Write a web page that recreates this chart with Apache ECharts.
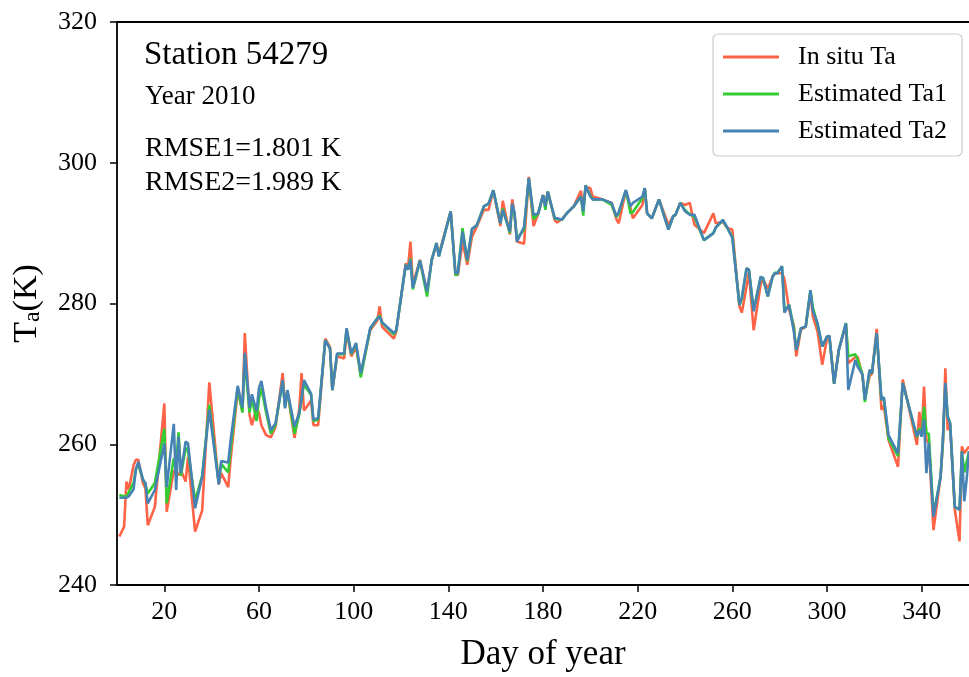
<!DOCTYPE html>
<html>
<head>
<meta charset="utf-8">
<script src="https://cdn.jsdelivr.net/npm/echarts@6/dist/echarts.min.js"></script>
<style>
  html, body { margin: 0; padding: 0; background: #fff; }
  #main { width: 969px; height: 677px; }
</style>
</head>
<body>
<div id="main"></div>
<script>
// day of year
var days = [1,3,4,5,7,8,9,11,12,13,16,20,21,24,25,26,27,29,30,33,
  36,39,43,44,47,48,51,53,54,56,57,59,60,61,63,65,67,70,71,72,
  75,77,78,79,82,83,85,88,90,91,93,96,97,99,101,103,107,110,111,112,
  117,118,122,123,124,125,128,131,133,135,136,141,143,144,146,148,150,152,155,157,
  159,162,163,166,167,168,169,172,174,176,178,180,181,182,185,186,188,190,193,196,
  197,198,200,201,205,209,211,212,215,217,218,222,223,224,226,229,233,235,236,238,
  240,242,244,248,252,253,256,258,260,263,264,266,267,269,272,273,275,277,278,279,
  281,282,284,286,287,289,291,293,294,296,298,300,301,303,305,308,309,312,313,315,
  316,318,319,321,323,324,326,330,332,338,339,340,341,342,343,345,348,349,350,351,
  352,354,356,357,358,359,360];

// In situ Ta
var inSitu = [246.9,248.3,254.7,253.6,257.0,257.8,257.8,254.4,253.8,248.5,251.1,265.8,250.4,256.3,256.0,255.6,256.3,254.7,258.2,247.6,
  250.6,268.8,254.3,255.9,253.9,257.8,267.6,264.7,275.8,264.2,262.7,265.2,264.4,262.7,261.3,261.0,262.5,270.1,265.6,267.5,
  260.9,265.0,270.1,264.8,266.2,262.7,262.7,275.0,273.8,267.7,272.5,272.2,276.0,272.5,273.8,269.9,276.2,277.6,279.6,276.7,
  275.0,276.0,285.7,285.2,288.8,282.7,286.2,281.7,286.2,288.4,287.0,293.1,284.3,284.0,288.8,285.5,289.5,290.9,293.3,293.3,
  296.1,291.0,294.6,289.8,294.8,292.6,288.8,288.5,298.0,291.0,292.8,295.4,293.8,295.9,291.8,291.5,292.0,292.8,293.8,296.0,
  293.5,296.5,296.4,295.2,294.8,294.3,292.0,291.4,296.0,293.5,292.1,294.0,296.4,292.8,292.1,294.8,291.2,292.4,292.6,294.3,
  294.0,294.3,291.2,290.0,292.8,291.4,291.6,290.7,290.5,279.6,278.7,282.4,284.5,276.2,282.8,283.4,282.1,283.8,284.3,284.3,
  284.3,283.5,279.1,276.9,272.5,276.3,276.7,281.5,278.2,276.0,271.3,275.0,275.4,268.6,273.4,277.0,271.5,272.4,272.4,269.7,
  266.5,269.7,270.0,276.4,264.9,265.5,260.6,256.8,269.2,259.9,264.6,261.6,268.2,260.6,260.2,247.8,255.4,260.2,270.8,262.0,
  263.0,250.7,246.2,259.7,258.7,259.2,259.7];

// Estimated Ta1
var estTa1 = [252.8,252.6,252.6,253.2,254.5,256.5,257.0,255.0,254.3,253.0,254.5,262.2,251.6,258.0,257.0,261.7,255.5,259.5,259.0,252.0,
  255.5,265.6,254.5,257.2,256.0,259.3,268.0,264.5,272.1,264.5,266.5,263.3,266.5,268.0,264.5,261.5,262.8,269.0,265.3,267.6,
  261.5,264.2,266.5,268.5,267.0,263.3,263.5,274.8,273.6,267.7,272.8,272.8,276.4,272.8,274.3,269.5,276.4,277.9,278.3,277.3,
  275.6,276.2,285.5,284.8,286.4,282.0,286.1,281.0,286.3,288.6,286.7,293.1,284.0,284.2,290.7,286.0,290.6,291.1,293.8,294.2,
  296.1,291.4,293.5,290.0,294.0,292.5,289.2,290.5,297.8,292.0,292.8,295.4,293.3,295.9,292.0,292.0,291.9,292.8,293.8,295.2,
  292.5,296.8,295.3,294.8,294.8,294.0,292.3,292.8,296.1,292.8,293.0,295.0,296.4,292.8,292.1,294.8,290.5,292.4,292.6,294.3,
  293.3,292.7,292.3,289.0,290.0,290.8,291.8,290.6,289.5,279.8,280.6,285.0,284.8,279.0,283.8,283.6,281.0,283.8,284.4,284.3,
  285.3,279.0,279.8,276.5,273.4,276.5,276.7,281.9,279.5,277.0,273.9,275.3,275.4,268.6,273.4,277.2,272.5,272.8,272.0,269.9,
  266.0,270.4,270.1,275.8,266.3,266.5,260.8,258.3,268.7,261.0,262.3,261.1,265.3,261.6,261.5,250.0,255.4,260.5,268.7,264.0,
  263.0,251.1,250.7,259.0,256.0,257.5,259.0];

// Estimated Ta2
var estTa2 = [252.4,252.4,252.4,252.6,253.6,256.5,257.5,254.9,254.5,251.6,253.5,260.1,253.9,262.9,253.5,261.1,255.9,260.4,260.1,250.9,
  255.4,264.9,254.3,257.6,257.4,260.5,268.3,265.2,273.0,265.2,267.1,264.7,268.0,269.0,265.2,262.0,263.0,269.1,265.1,267.7,
  262.5,264.4,266.5,269.1,267.2,263.5,263.7,274.8,273.6,267.7,272.9,272.9,276.5,272.9,274.4,270.1,276.5,277.9,278.1,277.3,
  275.8,276.2,285.5,284.8,286.2,282.2,286.1,281.7,286.2,288.6,286.7,293.1,284.3,284.3,290.2,286.2,290.6,291.1,293.8,294.2,
  296.1,291.4,293.3,290.2,294.2,292.8,288.8,290.9,297.8,292.6,292.8,295.4,293.8,295.9,292.1,292.1,291.9,292.8,293.8,295.2,
  293.1,296.8,295.2,294.8,294.8,294.3,292.4,293.0,296.1,293.8,294.3,295.2,296.4,292.8,292.1,294.8,290.5,292.4,292.6,294.3,
  293.1,292.6,292.6,289.0,290.0,290.8,291.9,290.7,289.3,279.8,280.8,285.0,284.8,278.9,283.8,283.6,281.0,283.8,284.3,284.3,
  285.3,278.7,279.8,276.0,273.4,276.5,276.7,281.9,279.0,277.2,273.9,275.3,275.4,268.6,273.4,277.2,267.7,272.0,271.0,269.9,
  266.3,270.6,270.1,275.8,266.3,266.7,261.3,258.7,268.7,261.1,262.0,261.1,263.5,255.9,260.2,249.7,255.4,261.0,268.7,263.9,
  263.0,251.1,250.7,259.0,251.9,255.0,259.0];

var xTicks = [20, 60, 100, 140, 180, 220, 260, 300, 340];
var seriesNames = ['In situ Ta', 'Estimated Ta1', 'Estimated Ta2'];

var FONT = '"Liberation Serif", "DejaVu Serif", serif';

function pairs(arr) {
  return days.map(function (d, i) { return [d, arr[i]]; });
}

var chart = echarts.init(document.getElementById('main'), null, { renderer: 'canvas' });

chart.setOption({
  animation: false,
  backgroundColor: '#fff',
  color: ['#ff6347', '#32cd32', '#4682b4'],
  textStyle: { fontFamily: FONT, color: '#000' },
  grid: {
    left: 117, right: 0, top: 22, bottom: 92,
    outerBoundsMode: 'none'
  },
  title: [
    { text: 'Station 54279', left: 139, top: 34,
      textStyle: { fontFamily: FONT, fontSize: 33, fontWeight: 'normal', color: '#000' } },
    { text: 'Year 2010', left: 140, top: 78,
      textStyle: { fontFamily: FONT, fontSize: 27, fontWeight: 'normal', color: '#000' } },
    { text: 'RMSE1=1.801 K', left: 140, top: 130,
      textStyle: { fontFamily: FONT, fontSize: 28, fontWeight: 'normal', color: '#000' } },
    { text: 'RMSE2=1.989 K', left: 140, top: 164,
      textStyle: { fontFamily: FONT, fontSize: 28, fontWeight: 'normal', color: '#000' } }
  ],
  legend: {
    data: seriesNames,
    orient: 'vertical',
    left: 713,
    top: 34,
    icon: 'rect',
    itemWidth: 56,
    itemHeight: 3,
    itemGap: 11,
    padding: [10, 15, 12, 10],
    backgroundColor: 'rgba(255,255,255,0.85)',
    borderColor: '#cccccc',
    borderWidth: 1.2,
    borderRadius: 5,
    textStyle: { fontFamily: FONT, fontSize: 26, color: '#000', padding: [0, 0, 0, 14] }
  },
  xAxis: [{
    type: 'value',
    min: 0,
    max: 360,
    name: 'Day of year',
    nameLocation: 'middle',
    nameGap: 52,
    nameTextStyle: { fontFamily: FONT, fontSize: 35, color: '#000' },
    axisLine: { show: true, onZero: false, lineStyle: { color: '#000', width: 1.8 } },
    axisTick: { show: true, length: 7, customValues: xTicks, lineStyle: { color: '#000', width: 1.5 } },
    axisLabel: { customValues: xTicks, margin: 14, fontFamily: FONT, fontSize: 26, color: '#000' },
    splitLine: { show: false }
  }, {
    type: 'value',
    position: 'top',
    min: 0,
    max: 360,
    axisLine: { show: true, onZero: false, lineStyle: { color: '#000', width: 1.8 } },
    axisTick: { show: false },
    axisLabel: { show: false },
    splitLine: { show: false }
  }],
  yAxis: {
    type: 'value',
    min: 240,
    max: 320,
    interval: 20,
    name: '{t|T}{s|a}{t|(K)}',
    nameLocation: 'middle',
    nameRotate: 90,
    nameGap: 72,
    nameTextStyle: {
      rich: {
        t: { fontFamily: FONT, fontSize: 34, color: '#000' },
        s: { fontFamily: FONT, fontSize: 24, color: '#000', verticalAlign: 'bottom', padding: [12, 0, 0, 0] }
      }
    },
    axisLine: { show: true, onZero: false, lineStyle: { color: '#000', width: 1.8 } },
    axisTick: { show: true, length: 7, lineStyle: { color: '#000', width: 1.5 } },
    axisLabel: { margin: 20, fontFamily: FONT, fontSize: 26, color: '#000' },
    splitLine: { show: false }
  },
  series: [
    { name: seriesNames[0], type: 'line', data: pairs(inSitu), symbol: 'none',
      lineStyle: { width: 2.6, color: '#ff6347' }, itemStyle: { color: '#ff6347' } },
    { name: seriesNames[1], type: 'line', data: pairs(estTa1), symbol: 'none',
      lineStyle: { width: 2.6, color: '#32cd32' }, itemStyle: { color: '#32cd32' } },
    { name: seriesNames[2], type: 'line', data: pairs(estTa2), symbol: 'none',
      lineStyle: { width: 2.6, color: '#4682b4' }, itemStyle: { color: '#4682b4' } }
  ]
});
</script>
</body>
</html>
